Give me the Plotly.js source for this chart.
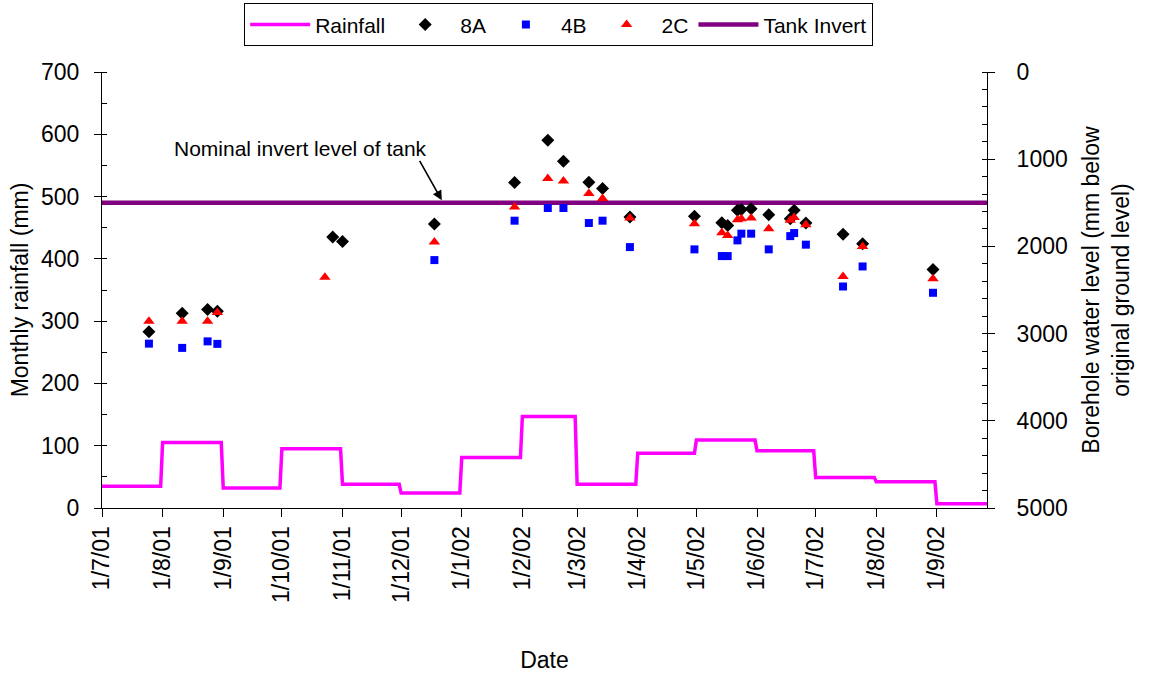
<!DOCTYPE html>
<html>
<head>
<meta charset="utf-8">
<script src="https://cdn.plot.ly/plotly-3.0.1.min.js"></script>
<style>html,body{margin:0;padding:0;background:#fff;}#chart{width:1149px;height:678px;}</style>
</head>
<body>
<div id="chart"></div>
<script>
// Monthly rainfall (mm), one value per month
const rainMonths = ['2001-07','2001-08','2001-09','2001-10','2001-11','2001-12','2002-01','2002-02','2002-03','2002-04','2002-05','2002-06','2002-07','2002-08','2002-09'];
const rainfall = [35, 105, 32, 95, 38, 24, 81, 147, 38, 88, 109, 92, 49, 42, 7];

// Borehole water level (mm below original ground level)
const dates8A = ['2001-07-25','2001-08-11','2001-08-24','2001-08-29','2001-10-27','2001-11-01','2001-12-18','2002-01-28','2002-02-14','2002-02-22','2002-03-07','2002-03-14','2002-03-28','2002-04-30','2002-05-14','2002-05-17','2002-05-22','2002-05-24','2002-05-29','2002-06-07','2002-06-18','2002-06-20','2002-06-26','2002-07-15','2002-07-25','2002-08-30'];
const level8A = [2980, 2767, 2724, 2744, 1893, 1943, 1744, 1268, 782, 1023, 1264, 1337, 1663, 1655, 1728, 1759, 1586, 1578, 1567, 1636, 1682, 1586, 1732, 1862, 1969, 2264];

const dates4B = ['2001-07-25','2001-08-11','2001-08-24','2001-08-29','2001-12-18','2002-01-28','2002-02-14','2002-02-22','2002-03-07','2002-03-14','2002-03-28','2002-04-30','2002-05-14','2002-05-17','2002-05-22','2002-05-24','2002-05-29','2002-06-07','2002-06-18','2002-06-20','2002-06-26','2002-07-15','2002-07-25','2002-08-30'];
const level4B = [3115, 3164, 3089, 3118, 2157, 1705, 1560, 1560, 1732, 1705, 2008, 2034, 2111, 2111, 1931, 1854, 1854, 2034, 1882, 1847, 1980, 2460, 2230, 2532];

const dates2C = ['2001-07-25','2001-08-11','2001-08-24','2001-08-29','2001-10-23','2001-12-18','2002-01-28','2002-02-14','2002-02-22','2002-03-07','2002-03-14','2002-03-28','2002-04-30','2002-05-14','2002-05-17','2002-05-22','2002-05-24','2002-05-29','2002-06-07','2002-06-18','2002-06-20','2002-06-26','2002-07-15','2002-07-25','2002-08-30'];
const level2C = [2859, 2859, 2859, 2759, 2353, 1950, 1548, 1222, 1249, 1394, 1452, 1675, 1739, 1843, 1874, 1693, 1682, 1675, 1797, 1701, 1670, 1751, 2345, 2000, 2372];

const tankInvert = 1500;
const xStart = '2001-07-01';
const xEnd = '2002-09-26 15:00';

// build monthly step line: value held from first to last day of each month
function ymd(d){return d.toISOString().slice(0,10);}
const rainX = [], rainY = [];
rainMonths.forEach((m, i) => {
  const [yy, mm] = m.split('-').map(Number);
  const start = new Date(Date.UTC(yy, mm - 1, 1));
  const end = new Date(Date.UTC(yy, mm, 0));
  rainX.push(ymd(start), ymd(end));
  rainY.push(rainfall[i], rainfall[i]);
});

const FONT = 'Liberation Sans, Arial, sans-serif';

const traces = [
  {x: rainX, y: rainY, name: 'Rainfall', type: 'scatter', mode: 'lines',
   line: {color: '#FF00FF', width: 3.5}, yaxis: 'y', legendrank: 1},
  {x: [xStart, '2002-09-30'], y: [tankInvert, tankInvert], name: 'Tank Invert', type: 'scatter', mode: 'lines',
   line: {color: '#800080', width: 4.5}, yaxis: 'y2', legendrank: 5},
  {x: dates8A, y: level8A, name: '8A', type: 'scatter', mode: 'markers',
   marker: {symbol: 'diamond', color: '#000000', size: 10}, yaxis: 'y2', legendrank: 2},
  {x: dates4B, y: level4B, name: '4B', type: 'scatter', mode: 'markers',
   marker: {symbol: 'square', color: '#0000FF', size: 8}, yaxis: 'y2', legendrank: 3},
  {x: dates2C, y: level2C, name: '2C', type: 'scatter', mode: 'markers',
   marker: {symbol: 'triangle-up', color: '#FF0000', size: 10}, yaxis: 'y2', legendrank: 4}
];

const layout = {
  width: 1149, height: 678,
  paper_bgcolor: '#fff', plot_bgcolor: '#fff',
  font: {family: FONT, color: '#000', size: 23},
  margin: {l: 102, r: 162, t: 72, b: 170},
  showlegend: true,
  legend: {orientation: 'h', x: 0.516, xanchor: 'center', yref: 'container', y: 0.995, yanchor: 'top',
           itemwidth: 60, bordercolor: '#000', borderwidth: 1, font: {size: 21, family: FONT}, traceorder: 'normal'},
  xaxis: {
    type: 'date', range: [xStart, xEnd], tickmode: 'linear', tick0: '2001-07-01', dtick: 'M1',
    tickformat: '%-d/%-m/%y', tickangle: -90, ticks: 'outside', ticklen: 8, tickcolor: '#000',
    showline: true, linecolor: '#000', linewidth: 1, showgrid: false, zeroline: false,
    tickfont: {size: 23}, title: {text: 'Date', font: {size: 23}, standoff: 49}
  },
  yaxis: {
    range: [0, 700], dtick: 100, ticks: 'outside', ticklen: 7, tickcolor: '#000',
    minor: {ticks: 'inside', dtick: 50, ticklen: 5, tickcolor: '#000'},
    showline: true, linecolor: '#000', linewidth: 1, showgrid: false, zeroline: false,
    tickfont: {size: 23}, ticklabelstandoff: 10,
    title: {text: 'Monthly rainfall (mm)', font: {size: 23}, standoff: 5}
  },
  yaxis2: {
    overlaying: 'y', side: 'right', range: [5000, 0], dtick: 1000, ticks: 'outside', ticklen: 7, tickcolor: '#000',
    minor: {ticks: 'inside', dtick: 200, ticklen: 5, tickcolor: '#000'},
    showline: true, linecolor: '#000', linewidth: 1, showgrid: false, zeroline: false,
    tickfont: {size: 23}, ticklabelstandoff: 17,
    title: {text: 'Borehole water level (mm below<br>original ground level)', font: {size: 23}, standoff: 16}
  },
  annotations: [
    {x: '2001-10-10 14:00', y: 874, xref: 'x', yref: 'y2', text: 'Nominal invert level of tank',
     showarrow: false, font: {size: 21, family: FONT, color: '#000'}},
    {x: '2001-12-21 19:00', y: 1471, xref: 'x', yref: 'y2', text: '', showarrow: true,
     ax: -23, ay: -41, arrowhead: 2, arrowsize: 1.2, arrowwidth: 1.6, arrowcolor: '#000'}
  ]
};

Plotly.newPlot('chart', traces, layout, {displayModeBar: false, staticPlot: true});
</script>
</body>
</html>
